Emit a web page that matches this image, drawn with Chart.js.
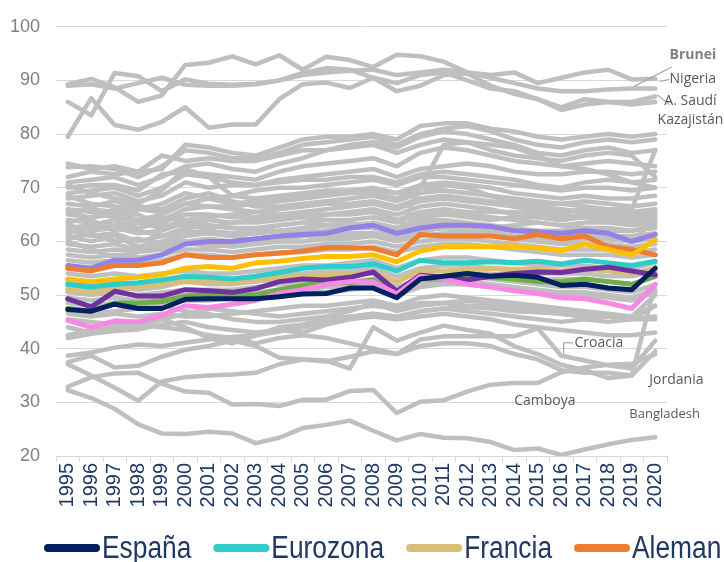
<!DOCTYPE html>
<html>
<head>
<meta charset="utf-8">
<script src="https://cdn.jsdelivr.net/npm/chart.js@4/dist/chart.umd.min.js"></script>
<style>
  body { margin: 0; background: #fff; }
</style>
</head>
<body>
<canvas id="myChart" width="724" height="562"></canvas>
<script>
const years = ["1995","1996","1997","1998","1999","2000","2001","2002","2003","2004","2005","2006","2007","2008","2009","2010","2011","2012","2013","2014","2015","2016","2017","2018","2019","2020"];
const yTicks = [20, 30, 40, 50, 60, 70, 80, 90, 100];

// series con leyenda
const espana   = [47.3, 47.0, 48.3, 47.5, 47.5, 49.2, 49.3, 49.3, 49.3, 49.7, 50.2, 50.3, 51.3, 51.3, 49.5, 53.0, 53.5, 54.0, 53.5, 53.7, 53.3, 51.8, 52.0, 51.3, 51.0, 55.0];
const eurozona = [52.0, 51.5, 52.0, 52.3, 52.8, 53.5, 53.3, 53.0, 53.5, 54.2, 55.0, 55.3, 55.3, 55.8, 54.5, 56.5, 56.0, 56.0, 56.2, 56.0, 56.3, 55.8, 56.5, 56.0, 55.5, 56.3];
const francia  = [51.0, 50.5, 51.0, 51.5, 52.0, 52.5, 52.5, 52.3, 52.8, 53.3, 53.5, 53.8, 53.8, 54.2, 52.5, 54.5, 54.5, 54.8, 55.0, 54.8, 54.8, 54.5, 54.8, 54.5, 54.0, 55.0];
const alemania = [55.0, 54.5, 55.5, 55.5, 56.0, 57.5, 57.0, 57.0, 57.5, 57.8, 58.2, 58.8, 58.8, 58.7, 57.5, 61.3, 61.0, 61.0, 61.0, 60.5, 61.3, 60.5, 61.0, 59.0, 58.5, 57.5];

// otras series de color (sin leyenda)
const lila     = [55.5, 55.0, 56.5, 56.5, 57.5, 59.5, 60.0, 60.0, 60.5, 61.0, 61.3, 61.5, 62.5, 63.0, 61.5, 62.5, 63.0, 63.0, 62.8, 62.0, 61.8, 61.5, 62.0, 61.5, 60.0, 61.3];
const amarillo = [53.0, 52.5, 53.0, 53.3, 53.8, 55.0, 55.3, 55.0, 56.0, 56.3, 56.8, 57.2, 57.2, 57.5, 56.2, 58.2, 59.0, 59.0, 59.0, 59.0, 58.8, 58.3, 59.5, 58.5, 57.5, 60.3];
const morado   = [49.3, 47.8, 50.7, 49.8, 49.8, 51.0, 50.8, 50.5, 51.2, 52.5, 53.0, 52.8, 53.3, 54.3, 50.7, 53.7, 53.3, 52.8, 53.5, 54.0, 54.3, 54.2, 54.8, 55.2, 54.5, 53.8];
const verde    = [47.5, 47.0, 48.5, 48.5, 48.8, 49.8, 50.0, 50.0, 50.0, 51.0, 51.8, 52.3, 52.3, 52.8, 50.0, 53.0, 53.0, 53.3, 53.3, 53.0, 52.5, 52.5, 53.0, 52.5, 52.0, 53.5];
const rosa     = [45.3, 44.0, 45.2, 45.0, 46.2, 48.0, 47.7, 48.3, 49.0, 50.3, 51.0, 52.0, 52.5, 52.5, 50.2, 53.5, 53.0, 52.0, 51.5, 50.8, 50.3, 49.5, 49.3, 48.5, 47.5, 52.0];

// resto de países (gris)
const grises = [
  [89.3, 90.3, 88.7, 86.0, 87.2, 92.9, 93.3, 94.5, 93.0, 94.7, 92.0, 94.4, 93.8, 92.5, 94.8, 94.5, 93.5, 91.5, 91.0, 91.5, 89.5, 90.5, 91.5, 92.0, 90.2, 90.3],
  [89.0, 89.3, 88.5, 89.5, 90.5, 89.2, 89.0, 89.0, 89.3, 90.0, 91.0, 91.5, 91.8, 92.0, 91.0, 91.5, 92.0, 91.5, 90.5, 89.5, 88.5, 88.0, 88.0, 88.3, 88.5, 88.5],
  [86.0, 83.5, 91.4, 90.8, 88.0, 90.2, 89.4, 89.2, 89.4, 90.0, 91.4, 92.3, 92.0, 90.5, 89.5, 91.0, 91.5, 90.0, 88.5, 88.0, 86.5, 85.0, 86.5, 86.0, 86.0, 87.0],
  [79.5, 86.7, 81.7, 80.8, 82.3, 85.0, 81.2, 81.8, 81.8, 86.5, 89.3, 89.6, 88.6, 90.5, 88.0, 89.0, 91.0, 91.3, 89.0, 87.5, 86.5, 84.5, 85.5, 86.0, 85.5, 86.0],
  [74.5, 73.5, 74.0, 73.0, 73.5, 78.0, 77.5, 76.5, 76.0, 77.5, 79.0, 79.5, 79.5, 80.0, 79.0, 81.5, 82.0, 82.0, 81.0, 80.5, 79.5, 79.0, 79.5, 80.0, 79.5, 80.0],
  [73.8, 74.0, 73.5, 72.0, 74.0, 77.0, 76.5, 75.5, 75.5, 76.5, 78.0, 78.5, 79.0, 79.5, 78.0, 80.0, 81.0, 81.5, 80.5, 79.0, 78.0, 77.5, 78.5, 79.0, 78.5, 79.0],
  [72.0, 73.0, 72.5, 73.0, 76.0, 75.0, 75.5, 75.0, 75.0, 76.0, 77.0, 77.0, 78.0, 78.5, 77.5, 79.5, 80.5, 80.0, 79.0, 78.0, 76.5, 76.0, 77.0, 77.5, 76.5, 77.0],
  [71.0, 71.5, 72.0, 70.5, 72.0, 74.0, 74.5, 73.5, 73.0, 74.5, 75.5, 77.0, 77.5, 78.0, 76.5, 78.0, 79.0, 78.5, 77.0, 76.0, 75.5, 75.0, 76.0, 76.5, 76.0, 72.0],
  [70.0, 70.5, 70.5, 69.5, 72.5, 73.0, 72.5, 72.0, 71.5, 73.0, 74.0, 74.5, 75.0, 75.5, 74.0, 76.5, 77.5, 77.0, 76.0, 75.0, 74.5, 74.0, 74.5, 75.0, 74.5, 74.0],
  [69.0, 69.5, 70.0, 68.5, 70.0, 72.5, 72.0, 71.0, 70.5, 71.5, 72.0, 72.5, 73.0, 73.5, 72.0, 73.5, 74.0, 74.5, 74.0, 73.0, 72.5, 72.5, 73.0, 73.0, 72.5, 73.0],
  [68.0, 68.5, 69.0, 67.5, 68.5, 71.0, 70.0, 70.5, 70.5, 71.0, 71.5, 71.5, 72.0, 72.0, 71.0, 72.5, 73.0, 72.5, 72.0, 71.5, 70.5, 70.0, 71.0, 71.5, 71.0, 71.5],
  [66.0, 65.5, 64.5, 63.5, 64.0, 66.0, 66.5, 66.0, 65.5, 65.0, 64.5, 64.0, 63.5, 62.5, 61.0, 70.0, 78.0, 78.5, 78.0, 77.5, 76.0, 74.0, 73.5, 72.5, 71.0, 70.0],
  [65.0, 64.5, 65.0, 66.0, 65.5, 67.0, 68.0, 68.5, 68.0, 68.5, 69.0, 69.5, 69.5, 70.0, 69.0, 70.0, 69.5, 69.0, 68.5, 68.0, 67.5, 67.0, 66.5, 66.0, 66.0, 77.0],
  [70.5, 69.0, 68.0, 67.0, 69.5, 73.5, 72.0, 68.5, 69.5, 70.0, 70.0, 70.5, 71.0, 71.5, 70.5, 72.0, 72.0, 71.5, 71.0, 70.5, 70.0, 69.5, 70.0, 70.0, 69.5, 70.0],
  [68.5, 67.0, 66.5, 66.0, 67.0, 69.0, 68.0, 67.0, 67.5, 68.0, 68.5, 69.0, 69.0, 69.5, 69.0, 70.5, 71.0, 70.5, 70.0, 69.0, 68.5, 68.0, 68.5, 68.0, 68.0, 68.5],
  [65.5, 66.0, 65.5, 64.0, 65.0, 67.0, 66.5, 66.5, 67.0, 67.5, 68.0, 68.5, 69.0, 69.0, 68.0, 70.0, 70.5, 70.0, 68.5, 67.0, 66.5, 66.0, 65.5, 65.0, 65.0, 65.5],
  [64.0, 63.5, 63.0, 62.5, 63.5, 65.0, 65.0, 64.5, 64.5, 65.0, 65.5, 66.0, 66.5, 67.0, 66.0, 67.5, 68.0, 67.5, 67.0, 66.5, 66.0, 65.5, 66.0, 66.0, 65.5, 66.0],
  [63.0, 62.0, 62.5, 61.5, 62.0, 63.5, 64.0, 63.5, 64.0, 64.5, 65.0, 65.0, 65.5, 66.0, 65.0, 66.5, 67.0, 66.5, 66.0, 65.0, 64.5, 64.0, 64.5, 64.5, 64.0, 64.5],
  [62.0, 61.0, 61.5, 60.0, 61.0, 62.5, 63.0, 62.5, 62.5, 63.0, 63.5, 64.0, 64.0, 64.5, 63.5, 65.0, 65.5, 65.0, 64.5, 64.0, 63.5, 63.0, 63.5, 63.5, 63.0, 63.5],
  [61.0, 60.0, 61.0, 59.0, 60.0, 61.5, 62.0, 61.5, 61.5, 62.0, 62.5, 63.0, 63.0, 63.5, 62.5, 64.0, 64.0, 63.5, 63.0, 62.5, 62.0, 62.0, 62.5, 62.5, 62.0, 62.5],
  [60.5, 61.5, 60.0, 60.5, 59.5, 61.0, 61.5, 61.0, 61.5, 62.0, 62.0, 62.0, 62.5, 62.5, 61.5, 63.0, 63.5, 63.0, 62.5, 62.0, 61.5, 61.5, 61.5, 61.0, 61.0, 61.5],
  [59.5, 59.0, 59.5, 58.5, 59.0, 60.0, 60.5, 60.0, 60.5, 60.5, 61.0, 61.0, 61.5, 61.5, 60.5, 62.0, 62.5, 62.0, 61.5, 61.0, 60.5, 60.0, 60.5, 60.5, 60.0, 60.5],
  [58.5, 58.0, 58.5, 58.0, 58.5, 59.5, 59.5, 59.0, 59.5, 60.0, 60.0, 60.5, 60.5, 61.0, 60.0, 61.0, 61.5, 61.5, 61.0, 60.5, 60.0, 59.5, 59.5, 59.5, 59.0, 59.5],
  [57.5, 57.0, 57.5, 57.0, 57.5, 58.5, 58.5, 58.0, 58.5, 59.0, 59.0, 59.5, 59.5, 60.0, 59.0, 60.0, 60.5, 60.5, 60.0, 59.5, 59.0, 58.5, 58.5, 58.5, 58.0, 58.5],
  [56.5, 56.0, 56.5, 56.0, 56.5, 57.5, 57.5, 57.0, 57.5, 58.0, 58.0, 58.5, 58.5, 59.0, 58.0, 59.0, 59.5, 59.5, 59.0, 58.5, 58.0, 57.5, 57.5, 57.5, 57.0, 57.5],
  [66.0, 64.0, 62.0, 63.5, 64.5, 64.0, 63.0, 62.5, 62.0, 63.0, 63.5, 63.0, 62.5, 63.5, 62.0, 64.5, 65.0, 64.5, 64.0, 64.5, 64.5, 64.0, 65.0, 65.5, 65.0, 66.0],
  [60.0, 58.5, 57.0, 58.0, 59.5, 60.0, 59.0, 59.5, 60.5, 61.0, 61.5, 62.0, 62.5, 63.0, 62.0, 63.5, 63.0, 62.5, 62.0, 61.0, 60.5, 61.0, 61.0, 60.5, 60.0, 64.0],
  [62.5, 63.0, 64.0, 62.0, 61.0, 62.0, 61.5, 61.0, 60.0, 60.5, 61.0, 61.5, 61.0, 61.5, 60.5, 62.0, 62.5, 63.0, 62.5, 63.0, 63.5, 63.0, 62.5, 62.0, 62.0, 63.0],
  [67.0, 66.5, 67.5, 66.5, 66.0, 68.0, 69.0, 67.5, 66.5, 66.5, 67.0, 67.5, 68.0, 68.5, 67.5, 69.0, 69.5, 69.0, 68.5, 67.5, 67.0, 67.0, 67.5, 67.0, 66.5, 67.0],
  [63.5, 64.5, 66.0, 65.0, 63.0, 63.0, 62.5, 63.5, 63.5, 64.0, 64.5, 65.0, 65.0, 65.5, 64.0, 65.5, 66.0, 65.5, 65.5, 65.5, 65.0, 64.5, 65.0, 65.0, 64.5, 65.0],
  [61.5, 62.5, 63.0, 63.5, 62.5, 64.0, 64.5, 65.0, 65.5, 66.0, 66.5, 67.0, 67.0, 67.5, 66.5, 68.0, 68.5, 68.0, 67.5, 66.5, 65.5, 65.0, 64.5, 64.0, 63.5, 64.0],
  [54.0, 53.5, 54.0, 53.5, 54.0, 54.5, 54.0, 54.0, 54.5, 55.0, 55.5, 55.5, 56.0, 56.5, 55.0, 56.5, 57.0, 57.0, 56.5, 56.0, 55.5, 55.5, 55.5, 55.0, 55.0, 56.0],
  [52.5, 52.0, 52.5, 52.0, 52.5, 53.0, 53.0, 53.0, 53.5, 54.0, 54.0, 54.5, 54.5, 55.0, 53.5, 55.0, 55.5, 55.5, 55.0, 54.5, 54.0, 54.0, 54.0, 53.5, 53.5, 54.5],
  [51.5, 51.0, 51.5, 51.0, 51.5, 52.5, 52.0, 52.0, 52.5, 53.0, 53.5, 53.5, 54.0, 54.0, 52.5, 54.5, 54.5, 54.0, 54.0, 53.5, 53.0, 53.0, 53.0, 52.5, 52.0, 53.5],
  [50.5, 50.0, 50.5, 50.0, 50.5, 51.0, 51.0, 51.0, 51.5, 52.0, 52.0, 52.5, 52.5, 53.0, 51.5, 53.0, 53.5, 53.5, 53.0, 52.5, 52.0, 51.5, 51.5, 51.0, 50.5, 52.0],
  [49.5, 49.0, 49.5, 49.0, 49.5, 50.0, 50.0, 50.0, 50.5, 51.0, 51.0, 51.5, 51.5, 52.0, 50.5, 52.0, 52.5, 52.5, 52.0, 51.5, 51.0, 50.5, 50.5, 50.0, 49.5, 51.0],
  [48.5, 48.0, 48.5, 48.0, 48.5, 49.0, 49.0, 49.5, 49.5, 50.0, 50.5, 50.5, 51.0, 51.5, 50.0, 51.5, 52.0, 52.0, 51.5, 51.0, 50.5, 50.0, 50.0, 49.5, 49.0, 50.5],
  [47.5, 46.5, 47.0, 47.5, 48.0, 47.0, 46.5, 45.5, 45.0, 45.0, 45.5, 46.0, 47.0, 48.5, 47.0, 48.0, 48.5, 49.0, 48.5, 48.0, 47.5, 47.0, 46.5, 46.0, 45.5, 45.5],
  [46.5, 46.0, 46.5, 46.0, 46.5, 46.0, 46.0, 46.5, 47.0, 47.5, 48.0, 48.0, 48.5, 49.0, 48.0, 49.5, 50.0, 49.5, 49.0, 48.5, 48.0, 47.5, 47.0, 46.5, 46.0, 48.0],
  [45.5, 45.0, 44.5, 45.0, 45.5, 46.5, 47.5, 47.0, 46.5, 46.0, 46.5, 47.0, 47.5, 48.0, 47.5, 48.5, 48.5, 48.0, 48.0, 47.5, 47.0, 46.5, 46.0, 46.0, 46.0, 50.0],
  [44.0, 43.0, 43.5, 44.0, 45.5, 44.0, 42.0, 41.0, 42.5, 44.0, 44.5, 45.5, 46.0, 46.5, 46.0, 47.0, 47.5, 47.0, 46.5, 46.0, 45.5, 45.0, 45.5, 45.0, 45.5, 48.0],
  [42.0, 42.8, 43.3, 43.6, 44.5, 45.0, 44.0, 43.5, 43.0, 43.5, 43.0, 44.5, 45.5, 46.0, 45.5, 46.0, 46.5, 46.0, 45.5, 44.5, 44.0, 43.5, 43.0, 42.5, 42.5, 43.0],
  [38.7, 39.3, 40.2, 40.8, 40.5, 41.1, 41.7, 42.2, 42.5, 43.2, 44.0, 45.0, 45.8, 46.5, 45.5, 47.0, 47.5, 47.8, 47.5, 47.0, 46.8, 46.5, 46.0, 46.0, 45.5, 46.0],
  [37.5, 38.7, 36.5, 36.8, 38.5, 39.8, 40.5, 41.5, 40.5, 38.3, 38.0, 37.8, 36.3, 44.0, 41.5, 43.0, 44.3, 43.5, 42.8, 40.5, 39.0, 37.0, 36.0, 34.5, 35.0, 52.0],
  [42.5, 43.5, 44.0, 44.5, 44.0, 43.5, 42.5, 42.0, 41.0, 42.0, 42.5, 42.0, 41.0, 40.0, 39.0, 41.7, 42.3, 42.3, 42.3, 42.3, 43.8, 38.7, 37.8, 36.9, 36.3, 41.5],
  [37.1, 35.0, 32.7, 30.3, 33.9, 34.7, 35.0, 35.2, 35.5, 37.1, 38.0, 37.6, 38.5, 39.5, 39.0, 40.5, 41.0, 41.0, 40.5, 39.0, 38.0, 36.0, 35.5, 35.5, 35.0, 39.5],
  [32.9, 34.7, 35.4, 35.5, 33.5, 32.0, 31.8, 29.6, 29.7, 29.3, 30.5, 30.5, 32.1, 32.3, 28.0, 30.1, 30.4, 32.0, 33.3, 33.6, 33.6, 35.6, 36.5, 37.0, 37.2, 39.0],
  [32.3, 30.8, 28.8, 25.9, 24.2, 24.1, 24.5, 24.2, 22.4, 23.4, 25.2, 25.8, 26.6, 24.7, 22.9, 24.1, 23.4, 23.3, 22.6, 21.1, 21.4, 20.2, 21.2, 22.2, 23.0, 23.5]
];

// nombres en leyenda y etiquetas de texto sobre el gráfico [texto, índice año, valor, negrita]
const legendNames = ["España", "Eurozona", "Francia", "Aleman"];
const etiquetas = [
  ["Brunei", 26.6, 94.7, true],
  ["Nigeria", 26.6, 90.2, false],
  ["A. Saudí", 26.5, 86.2, false],
  ["Kazajistán", 26.5, 82.7, false],
  ["Croacia", 22.6, 41.1, false],
  ["Jordania", 25.9, 34.2, false],
  ["Camboya", 20.3, 30.2, false],
  ["Bangladesh", 25.4, 27.8, false]
];
// líneas guía [x1, y1, x2, y2] en coordenadas de datos
const guias = [
  [24.1, 88.9, 25.7, 92.5],
  [25.2, 89.8, 25.6, 90.2],
  [25.1, 87.3, 25.6, 85.5],
  [21.1, 38.9, 21.1, 41.1],
  [21.1, 41.1, 21.5, 41.1]
];

const gris = "#BFBFBF";
const coloreadas = [
  { label: "España", data: espana, color: "#002060" },
  { label: "Rosa", data: rosa, color: "#F589E3" },
  { label: "Morado", data: morado, color: "#7030A0" },
  { label: "Verde", data: verde, color: "#70AD47" },
  { label: "Eurozona", data: eurozona, color: "#2FCDC9" },
  { label: "Francia", data: francia, color: "#D9BE78" },
  { label: "Amarillo", data: amarillo, color: "#FFC000" },
  { label: "Aleman", data: alemania, color: "#ED7D31" },
  { label: "Lila", data: lila, color: "#9381E6" }
];

const datasets = [];
for (const s of coloreadas) {
  datasets.push({ label: s.label, data: s.data, borderColor: s.color, backgroundColor: s.color, borderWidth: 5 });
}
grises.forEach((d, i) => {
  datasets.push({ label: "g" + i, data: d, borderColor: gris, backgroundColor: gris, borderWidth: 4.5 });
});

// etiquetas de países y líneas guía
const textos = {
  id: "textos",
  afterDatasetsDraw(chart) {
    const c = chart.ctx;
    const xs = chart.scales.x, ys = chart.scales.y;
    const px = (i) => xs.getPixelForValue(0) + i * (xs.getPixelForValue(1) - xs.getPixelForValue(0));
    c.save();
    c.strokeStyle = "#A6A6A6";
    c.lineWidth = 1.2;
    for (const g of guias) {
      c.beginPath();
      c.moveTo(px(g[0]), ys.getPixelForValue(g[1]));
      c.lineTo(px(g[2]), ys.getPixelForValue(g[3]));
      c.stroke();
    }
    c.textAlign = "center";
    c.textBaseline = "middle";
    for (const e of etiquetas) {
      c.font = e[3] ? "bold 14px 'Open Sans'" : "14px 'Open Sans'";
      c.fillStyle = e[3] ? "#808080" : "#595959";
      if (e[0] === "Bangladesh") c.font = "13px 'Open Sans'";
      c.fillText(e[0], px(e[1]), ys.getPixelForValue(e[2]));
    }
    c.restore();
  }
};

// leyenda estrecha dibujada a mano (letra condensada)
const leyenda = {
  id: "leyenda",
  afterDraw(chart) {
    const c = chart.ctx;
    const y = chart.height - 14;
    const sx = 0.85;
    let x = 44;
    c.save();
    c.font = "31px 'Liberation Sans'";
    c.textBaseline = "middle";
    for (const name of legendNames) {
      const s = coloreadas.find(d => d.label === name);
      c.strokeStyle = s.color;
      c.lineWidth = 8;
      c.lineCap = "round";
      c.beginPath();
      c.moveTo(x + 4, y);
      c.lineTo(x + 52, y);
      c.stroke();
      x += 58;
      const w = c.measureText(name).width * sx;
      c.save();
      c.translate(x, y);
      c.scale(sx, 1);
      c.fillStyle = "#1F3864";
      c.fillText(name, 0, 1);
      c.restore();
      x += w + 22;
    }
    c.restore();
  }
};

const ctx = document.getElementById("myChart");
new Chart(ctx, {
  type: "line",
  data: { labels: years, datasets: datasets },
  options: {
    responsive: false,
    animation: false,
    events: [],
    elements: { point: { radius: 0 }, line: { tension: 0, borderCapStyle: "round", borderJoinStyle: "round" } },
    layout: { padding: { top: 7, left: 0, right: 0, bottom: 48 } },
    scales: {
      x: {
        offset: true,
        grid: { display: true, offset: true, drawOnChartArea: false, drawTicks: true, tickLength: 6, color: "#D9D9D9" },
        border: { display: true, color: "#D9D9D9" },
        ticks: { minRotation: 90, maxRotation: 90, autoSkip: false, padding: 1, color: "#1F3864", font: { family: "Liberation Sans", size: 20 } },
        afterFit: (s) => { s.height = 58; }
      },
      y: {
        min: 20, max: 100,
        afterBuildTicks: (s) => { s.ticks = yTicks.map(v => ({ value: v })); },
        grid: { color: "#D9D9D9", drawTicks: false },
        border: { display: false },
        ticks: { color: "#7F7F7F", padding: 16, font: { family: "Liberation Sans", size: 18 } },
        afterFit: (s) => { s.width = 56; }
      },
      derecha: {
        position: "right",
        display: true,
        grid: { display: false },
        border: { display: false },
        ticks: { display: false },
        afterFit: (s) => { s.width = 57; }
      }
    },
    plugins: {
      tooltip: { enabled: false },
      legend: { display: false }
    }
  },
  plugins: [textos, leyenda]
});
</script>
</body>
</html>
